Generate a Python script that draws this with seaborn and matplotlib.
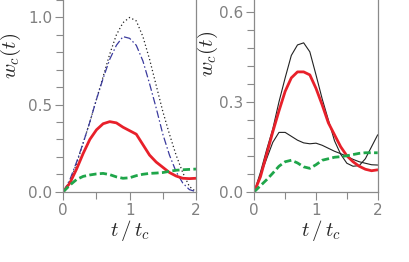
import numpy as np
import pandas as pd
import matplotlib
matplotlib.use("Agg")
import matplotlib.pyplot as plt
import seaborn as sns
from matplotlib.ticker import MultipleLocator

# time axis t/t_c, shared by every curve
t = [0.0, 0.1, 0.2, 0.3, 0.4, 0.5, 0.6, 0.7, 0.8, 0.9, 1.0,
     1.1, 1.2, 1.3, 1.4, 1.5, 1.6, 1.7, 1.8, 1.9, 2.0]

# left panel
left_dotted = [0.0, 0.06, 0.16, 0.28, 0.40, 0.53, 0.66, 0.79, 0.90, 0.97, 1.0,
               0.98, 0.89, 0.76, 0.61, 0.46, 0.33, 0.21, 0.11, 0.03, 0.0]
left_dashdot = [0.0, 0.07, 0.17, 0.28, 0.40, 0.53, 0.65, 0.76, 0.84, 0.89, 0.88,
                0.84, 0.75, 0.62, 0.48, 0.33, 0.21, 0.115, 0.05, 0.012, 0.0]
left_red = [0.0, 0.05, 0.13, 0.22, 0.30, 0.355, 0.39, 0.402, 0.395, 0.37, 0.35,
            0.33, 0.27, 0.21, 0.17, 0.14, 0.11, 0.09, 0.077, 0.075, 0.077]
left_green = [0.0, 0.038, 0.07, 0.088, 0.096, 0.102, 0.105, 0.098, 0.085, 0.077, 0.08,
              0.092, 0.10, 0.105, 0.107, 0.11, 0.117, 0.123, 0.126, 0.128, 0.13]

# right panel
right_black_hi = [0.0, 0.065, 0.14, 0.21, 0.30, 0.38, 0.455, 0.49, 0.497, 0.467, 0.39,
                  0.31, 0.24, 0.17, 0.125, 0.095, 0.085, 0.087, 0.11, 0.15, 0.19]
right_black_lo = [0.0, 0.055, 0.11, 0.165, 0.198, 0.198, 0.185, 0.172, 0.163, 0.16, 0.162,
                  0.155, 0.145, 0.135, 0.127, 0.118, 0.108, 0.10, 0.095, 0.09, 0.089]
right_red = [0.0, 0.05, 0.125, 0.20, 0.27, 0.335, 0.38, 0.40, 0.40, 0.39, 0.345,
             0.29, 0.23, 0.19, 0.15, 0.12, 0.10, 0.085, 0.075, 0.07, 0.073]
right_green = [0.0, 0.02, 0.04, 0.062, 0.085, 0.10, 0.105, 0.096, 0.083, 0.078, 0.09,
               0.105, 0.11, 0.115, 0.117, 0.12, 0.124, 0.128, 0.13, 0.13, 0.13]

sns.set_style("ticks")
plt.rcParams["mathtext.fontset"] = "cm"
plt.rcParams["font.family"] = ["DejaVu Sans"]

RED = "#e8202a"
GREEN = "#1fa64a"
BLUE = "#3b3b9e"
GRAY = "#8a8a8a"

fig = plt.figure(figsize=(4.09, 2.62), dpi=100)
ax1 = fig.add_axes([63.3 / 409, 70.3 / 262, 132.7 / 409, 191.7 / 262])
ax2 = fig.add_axes([254.3 / 409, 70.3 / 262, 123.4 / 409, 191.7 / 262])

sns.lineplot(x=t, y=left_dotted, ax=ax1, color="#222222", lw=0.9, linestyle=(0, (1, 2)))
sns.lineplot(x=t, y=left_dashdot, ax=ax1, color=BLUE, lw=0.9, linestyle=(0, (6, 2, 1.2, 2)))
sns.lineplot(x=t, y=left_red, ax=ax1, color=RED, lw=2.0)
sns.lineplot(x=t, y=left_green, ax=ax1, color=GREEN, lw=2.0, linestyle=(0, (2.6, 1.2)))

sns.lineplot(x=t, y=right_black_hi, ax=ax2, color="#222222", lw=0.8)
sns.lineplot(x=t, y=right_black_lo, ax=ax2, color="#222222", lw=0.8)
sns.lineplot(x=t, y=right_red, ax=ax2, color=RED, lw=2.0)
sns.lineplot(x=t, y=right_green, ax=ax2, color=GREEN, lw=2.0, linestyle=(0, (2.6, 1.2)))

for ax, top, major, minor in [(ax1, 1.1, 0.5, 0.1), (ax2, 0.64, 0.3, 0.06)]:
    ax.set_xlim(0, 2)
    ax.set_ylim(0, top)
    ax.xaxis.set_major_locator(MultipleLocator(1))
    ax.xaxis.set_minor_locator(MultipleLocator(0.5))
    ax.yaxis.set_minor_locator(MultipleLocator(minor))
    ticks = np.arange(0, top, major)
    ax.set_yticks(ticks)
    ax.set_yticklabels(["{:.1f}".format(v) for v in ticks])
    ax.spines["top"].set_visible(False)
    for s in ["left", "bottom", "right"]:
        ax.spines[s].set_color(GRAY)
        ax.spines[s].set_linewidth(0.9)
    ax.tick_params(which="major", length=6, width=0.8, color=GRAY, labelcolor="#808080",
                   labelsize=11, pad=2)
    ax.tick_params(which="minor", length=5, width=0.8, color=GRAY)
    ax.set_xlabel(r"$t\,/\,t_c$", fontsize=15)
    ax.set_ylabel(r"$w_c(t)$", fontsize=15)

ax1.yaxis.set_label_coords(-0.30, 0.71)
ax1.xaxis.set_label_coords(0.5, -0.135)
ax2.yaxis.set_label_coords(-0.28, 0.72)
ax2.xaxis.set_label_coords(0.54, -0.135)

fig.savefig("out.png", dpi=100)
